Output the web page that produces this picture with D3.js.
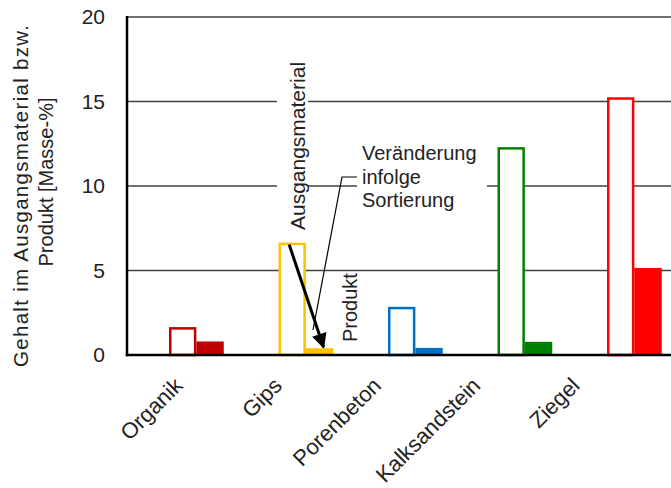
<!DOCTYPE html>
<html>
<head>
<meta charset="utf-8">
<script src="https://cdn.jsdelivr.net/npm/d3@7"></script>
<style>
  html, body { margin: 0; padding: 0; background: #fff; }
  svg { display: block; }
  text { font-family: Arial, "Liberation Sans", sans-serif; fill: #222; }
</style>
</head>
<body>
<svg id="chart" width="671" height="488"></svg>
<script>
// ---- data ----
const categories = ["Organik", "Gips", "Porenbeton", "Kalksandstein", "Ziegel"];
const seriesNames = ["Ausgangsmaterial", "Produkt"];
const ausgangsmaterial = [1.65, 6.65, 2.85, 12.3, 15.25];
const produkt = [0.8, 0.4, 0.42, 0.78, 5.15];
const yTicks = [0, 5, 10, 15, 20];
const barColors = ["#c00000", "#ffc000", "#0070c0", "#008000", "#ff0000"];
const yTitleLines = ["Gehalt im Ausgangsmaterial bzw.", "Produkt [Masse-%]"];
const noteLines = ["Veränderung", "infolge", "Sortierung"];

// ---- layout ----
const W = 671, H = 488;
const svg = d3.select("#chart");
const mLeft = 127, mBottom = 355, mTop = 17;

const y = d3.scaleLinear().domain([0, 20]).range([mBottom, mTop]);
const x = d3.scaleBand().domain(categories).range([114.25, 716.5]).padding(0.5);
const x1 = d3.scaleBand().domain(seriesNames).range([0, x.bandwidth()]);
const xLabel = d3.scalePoint().domain(categories).range([184, 581]);

// gridlines
svg.append("g").selectAll("line").data(yTicks.filter(t => t > 0)).join("line")
  .attr("x1", mLeft).attr("x2", W)
  .attr("y1", d => y(d)).attr("y2", d => y(d))
  .attr("stroke", "#404040").attr("stroke-width", 1.5);

// white background boxes for annotations (break gridlines)
const gX = x("Gips");
svg.append("rect").attr("x", 277).attr("y", 58).attr("width", 31).attr("height", 176).attr("fill", "#fff");
svg.append("rect").attr("x", 357).attr("y", 140).attr("width", 130).attr("height", 74).attr("fill", "#fff");

// bars
const g = svg.append("g");
categories.forEach((c, i) => {
  const xa = x(c) + x1("Ausgangsmaterial");
  const xp = x(c) + x1("Produkt");
  const bw = x1.bandwidth();
  g.append("rect")
    .attr("x", xa + 1.25).attr("y", y(ausgangsmaterial[i]) + 1.25)
    .attr("width", bw - 2.5).attr("height", y(0) - y(ausgangsmaterial[i]) - 1.25)
    .attr("fill", "#fff").attr("stroke", barColors[i]).attr("stroke-width", 2.5);
  g.append("rect")
    .attr("x", xp).attr("y", y(produkt[i]))
    .attr("width", bw).attr("height", y(0) - y(produkt[i]))
    .attr("fill", barColors[i]);
});

// axes
svg.append("line").attr("x1", mLeft).attr("x2", mLeft).attr("y1", mTop - 1).attr("y2", mBottom + 1.25)
  .attr("stroke", "#000").attr("stroke-width", 2.5);
svg.append("line").attr("x1", mLeft - 1.25).attr("x2", W).attr("y1", mBottom).attr("y2", mBottom)
  .attr("stroke", "#000").attr("stroke-width", 2.5);

// y tick labels
svg.append("g").selectAll("text").data(yTicks).join("text")
  .attr("x", 105).attr("y", d => y(d)).attr("dy", "0.35em")
  .attr("text-anchor", "end").attr("font-size", 21)
  .text(d => d);

// x category labels
svg.append("g").selectAll("text").data(categories).join("text")
  .attr("transform", d => `translate(${xLabel(d)},387) rotate(-45)`)
  .attr("text-anchor", "end").attr("font-size", 22)
  .text(d => d);

// y title
svg.append("text").attr("transform", "translate(28,196) rotate(-90)")
  .attr("text-anchor", "middle").attr("font-size", 20.5)
  .attr("textLength", 342).attr("lengthAdjust", "spacing")
  .text(yTitleLines[0]);
svg.append("text").attr("transform", "translate(53,182) rotate(-90)")
  .attr("text-anchor", "middle").attr("font-size", 20).text(yTitleLines[1]);

// series annotations
svg.append("text").attr("transform", "translate(305,146) rotate(-90)")
  .attr("text-anchor", "middle").attr("font-size", 21).text(seriesNames[0]);
svg.append("text").attr("transform", "translate(357,342) rotate(-90)")
  .attr("text-anchor", "start").attr("font-size", 20).text(seriesNames[1]);

// note
svg.append("g").selectAll("text").data(noteLines).join("text")
  .attr("x", 362).attr("y", (d, i) => 160 + i * 23.5)
  .attr("font-size", 20).text(d => d);

// leader line
svg.append("polyline")
  .attr("points", "313,330 342,177 357,177")
  .attr("fill", "none").attr("stroke", "#000").attr("stroke-width", 1.2);

// arrow
svg.append("defs").append("marker")
  .attr("id", "ah").attr("viewBox", "0 0 10 10").attr("refX", 9).attr("refY", 5)
  .attr("markerWidth", 6.5).attr("markerHeight", 5).attr("orient", "auto")
  .attr("markerUnits", "strokeWidth")
  .append("path").attr("d", "M0,0 L10,5 L0,10 Z").attr("fill", "#000");
const gi = categories.indexOf("Gips");
svg.append("line")
  .attr("x1", gX + x1("Ausgangsmaterial") + x1.bandwidth() / 2 - 3)
  .attr("y1", y(ausgangsmaterial[gi]) + 2)
  .attr("x2", gX + x1("Produkt") + x1.bandwidth() / 2 + 4)
  .attr("y2", y(produkt[gi]) - 1)
  .attr("stroke", "#000").attr("stroke-width", 3).attr("marker-end", "url(#ah)");
</script>
</body>
</html>
